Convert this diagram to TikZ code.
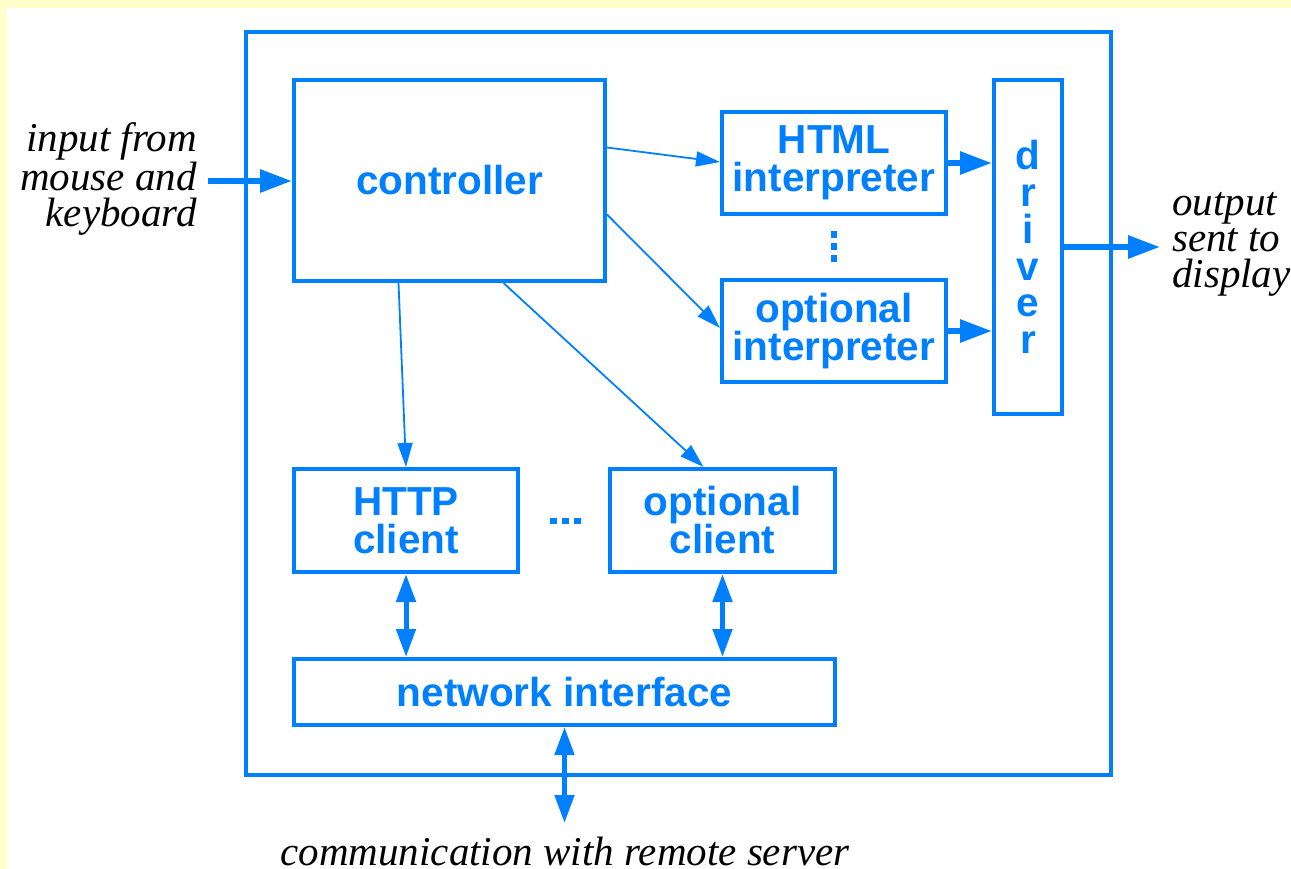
\documentclass[tikz,border=0pt]{standalone}
\usepackage{fontspec}
\setmainfont{Liberation Serif}
\setsansfont{Liberation Sans}
\usetikzlibrary{arrows.meta}
\definecolor{bl}{RGB}{0,128,255}
\definecolor{bgy}{RGB}{255,255,204}
\begin{document}
\begin{tikzpicture}[x=1pt,y=-1pt,
  box/.style={draw=bl,line width=4pt,inner sep=0pt,text=bl,align=center,
    font=\sffamily\bfseries\fontsize{40.5}{38}\selectfont},
  lab/.style={inner sep=0pt,font=\itshape\fontsize{41}{36}\selectfont,text=black},
  thinarr/.style={draw=bl,line width=1.8pt,-{Triangle[length=24pt,width=15pt]}},
  thickarr/.style={draw=bl,line width=6pt,-{Triangle[length=32pt,width=22pt]}},
  duoarr/.style={draw=bl,line width=5pt,{Triangle[length=28pt,width=19pt]}-{Triangle[length=28pt,width=19pt]}},
  dot/.style={fill=bl}]
\fill[bgy] (0,0) rectangle (1291,869);
\fill[white] (7,8) rectangle (1291,869);
\useasboundingbox (0,0) rectangle (1291,869);

% boxes
\node[box,minimum width=865pt,minimum height=743pt] (outer) at (678.5,403.5) {};
\node[box,minimum width=311pt,minimum height=201pt] (ctrl) at (449.5,180.5) {controller};
\node[box,minimum width=224pt,minimum height=102pt] (html) at (834,163) {HTML\\interpreter};
\node[box,minimum width=224pt,minimum height=102pt] (optint) at (834,331) {optional\\interpreter};
\node[box,minimum width=68pt,minimum height=334pt,
  font=\sffamily\bfseries\fontsize{40.5}{36.8}\selectfont] (drv) at (1028,247) {d\\r\\i\\v\\e\\r};
\node[box,minimum width=224pt,minimum height=103pt] (http) at (406,520.5) {HTTP\\client};
\node[box,minimum width=225pt,minimum height=103pt] (optc) at (722.5,520.5) {optional\\client};
\node[box,minimum width=541pt,minimum height=66pt] (net) at (564.5,692) {network interface};

% labels
\node[lab,align=right,anchor=east] (inlab) at (197,179) {input from\\mouse and\\keyboard};
\node[lab,align=left,anchor=west] (outlab) at (1172,244) {output\\sent to\\display};
\node[lab,anchor=base] (remlab) at (565,865) {communication with remote server};

\coordinate (in) at (208,181);
\coordinate (out) at (1160,247);
\coordinate (rem) at (564.5,823);

% connectors
\draw[thickarr] (in) -- (ctrl.west |- in);
\draw[thinarr] ([yshift=33pt]ctrl.east) -- ([yshift=1pt]html.west);
\draw[thinarr] ([yshift=-34pt]ctrl.east) -- ([yshift=3pt]optint.west);
\draw[thinarr] ([xshift=-51pt]ctrl.south) -- (http.north);
\draw[thinarr] ([xshift=54pt]ctrl.south) -- ([xshift=-19pt]optc.north);
\draw[thickarr] (html.east) -- (html.east -| drv.west);
\draw[thickarr] (optint.east) -- (optint.east -| drv.west);
\draw[thickarr] (drv.east) -- (out);
\draw[duoarr] (http.south) -- (http.south |- net.north);
\draw[duoarr] (optc.south) -- (optc.south |- net.north);
\draw[duoarr] (net.south) -- (rem);

% ellipsis dots
\foreach \yy in {235,247,259} \fill[dot] (831,\yy-3.5) rectangle (837,\yy+3.5);
\foreach \xx in {553,565,577} \fill[dot] (\xx-3.5,518) rectangle (\xx+3.5,524);
\end{tikzpicture}
\end{document}
